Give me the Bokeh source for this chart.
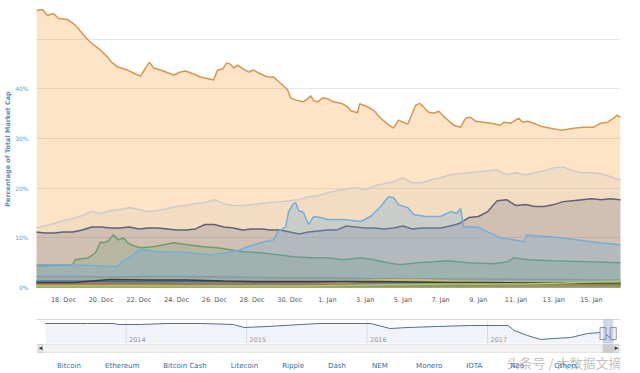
from bokeh.plotting import figure
from bokeh.models import Range1d, FixedTicker, Legend, LegendItem, BoxAnnotation, Label
from bokeh.layouts import column
from bokeh.embed import file_html
from bokeh.resources import INLINE
from bokeh.core.properties import value

FONT = "DejaVu Sans"

# ---------------- data (x = days since 16 Dec 2017 00:00, values in % of total market cap) ----
X_START, X_END = 0.57, 31.54
tick_days = [2, 4, 6, 8, 10, 12, 14, 16, 18, 20, 22, 24, 26, 28, 30]
tick_labels = ["18. Dec", "20. Dec", "22. Dec", "24. Dec", "26. Dec", "28. Dec", "30. Dec",
               "1. Jan", "3. Jan", "5. Jan", "7. Jan", "9. Jan", "11. Jan", "13. Jan", "15. Jan"]
y_ticks = [0, 10, 20, 30, 40, 50]
y_labels = ["0%", "10%", "20%", "30%", "40%", ""]

btc_d = [0.57, 0.89, 1.15, 1.47, 1.74, 2.21, 2.64, 3.17, 3.43, 3.97,
         4.34, 4.55, 4.87, 5.40, 5.82, 6.09, 6.35, 6.56, 6.78, 7.15,
         7.84, 8.21, 8.47, 8.90, 9.27, 9.96, 10.17, 10.44, 10.65, 10.86,
         11.02, 11.23, 11.55, 11.82, 12.08, 12.35, 12.82, 13.14, 13.62, 13.89,
         14.04, 14.31, 14.68, 14.95, 15.11, 15.27, 15.48, 15.74, 16.01, 16.33,
         16.80, 17.07, 17.23, 17.60, 17.70, 18.13, 18.45, 18.82, 19.19, 19.51,
         19.77, 19.88, 20.25, 20.52, 20.68, 20.89, 21.10, 21.37, 21.63, 21.90,
         22.27, 22.69, 23.06, 23.33, 23.59, 23.86, 24.28, 24.65, 25.19, 25.34,
         25.72, 26.14, 26.35, 26.62, 26.94, 27.31, 27.84, 28.37, 28.74, 29.06,
         29.54, 30.12, 30.49, 30.86, 31.18, 31.34, 31.54]
btc = [55.8, 56.0, 54.8, 55.2, 54.2, 54.0, 52.8, 50.4, 49.4, 47.8,
       46.4, 45.4, 44.4, 43.8, 43.0, 42.6, 44.2, 45.4, 44.2, 43.8,
       42.8, 43.4, 43.6, 43.0, 42.4, 41.8, 43.8, 44.0, 45.2, 45.0,
       44.2, 44.8, 44.0, 43.4, 43.8, 43.2, 42.4, 42.4, 40.8, 39.8,
       38.2, 37.8, 37.4, 38.0, 38.6, 37.6, 37.4, 38.2, 38.0, 37.4,
       37.0, 36.4, 35.6, 35.2, 37.0, 36.4, 35.7, 34.1, 32.9, 32.1,
       33.7, 33.5, 32.9, 35.3, 36.7, 37.1, 36.3, 35.3, 35.1, 35.5,
       34.1, 32.7, 32.3, 34.1, 34.3, 33.5, 33.3, 33.1, 32.7, 33.3,
       33.1, 34.1, 33.3, 33.5, 33.1, 32.5, 32.1, 31.7, 31.9, 32.1,
       32.3, 32.3, 33.1, 33.3, 34.1, 34.7, 34.3]

grid_d = [0.5, 1.0, 1.5, 2.0, 2.5, 3.0, 3.5, 4.0, 4.5, 5.0, 5.5, 6.0, 6.5, 7.0, 7.5, 8.0,
          8.5, 9.0, 9.5, 10.0, 10.5, 11.0, 11.5, 12.0, 12.5, 13.0, 13.5, 14.0, 14.5, 15.0, 15.5, 16.0,
          16.5, 17.0, 17.5, 18.0, 18.5, 19.0, 19.5, 20.0, 20.5, 21.0, 21.5, 22.0, 22.5, 23.0, 23.5, 24.0,
          24.5, 25.0, 25.5, 26.0, 26.5, 27.0, 27.5, 28.0, 28.5, 29.0, 29.5, 30.0, 30.5, 31.0, 31.5, 32.0]
others = [12.0, 12.4, 12.9, 13.5, 13.9, 14.5, 15.3, 14.9, 15.5, 15.7, 16.1, 15.7, 15.3, 15.5, 15.9, 16.3,
          16.5, 16.9, 17.1, 17.7, 16.9, 16.5, 16.5, 16.7, 16.9, 17.1, 17.3, 17.5, 17.7, 18.3, 18.5, 19.1,
          19.5, 19.9, 20.1, 19.7, 20.5, 20.9, 21.3, 22.1, 21.1, 21.1, 21.7, 22.1, 22.7, 22.9, 23.1, 23.3,
          23.5, 23.7, 22.7, 23.1, 22.7, 23.1, 23.5, 24.1, 24.3, 23.5, 23.1, 23.1, 22.9, 22.3, 21.7, 21.7]
eth = [11.2, 11.0, 11.0, 11.2, 11.2, 11.6, 12.2, 12.2, 12.0, 12.0, 12.2, 11.8, 12.0, 12.0, 11.8, 11.6,
       11.6, 11.8, 12.7, 12.7, 12.2, 12.0, 11.6, 11.8, 11.8, 11.6, 11.6, 11.2, 10.8, 11.2, 11.4, 11.6,
       11.6, 12.4, 12.2, 12.0, 12.0, 11.8, 12.0, 12.4, 11.8, 12.0, 12.0, 12.0, 12.4, 12.9, 14.1, 14.3,
       15.3, 17.5, 17.7, 16.5, 16.7, 16.3, 16.3, 16.7, 17.3, 17.5, 17.7, 17.9, 17.7, 17.9, 17.7, 17.7]

rip_d = [0.57, 2.37, 3.81, 4.87, 5.03, 5.56, 5.93, 6.25, 6.99, 7.84,
         8.74, 9.80, 10.70, 11.39, 11.76, 12.45, 13.14, 13.36, 13.51, 13.78,
         13.94, 14.15, 14.31, 14.47, 14.73, 15.00, 15.26, 15.64, 16.01, 16.86,
         17.76, 18.29, 18.82, 19.24, 19.51, 19.77, 20.25, 20.57, 21.21, 22.00,
         22.53, 22.85, 23.06, 23.22, 23.97, 24.50, 25.19, 25.88, 26.41, 26.56,
         27.31, 28.37, 29.59, 30.49, 31.55]
rip = [4.6, 4.6, 4.4, 4.2, 5.0, 6.2, 7.4, 7.6, 7.2, 7.2,
       7.0, 6.6, 7.0, 7.6, 8.2, 9.0, 9.6, 11.2, 11.6, 12.2,
       15.3, 16.7, 17.1, 15.5, 15.1, 12.7, 14.3, 14.1, 13.7, 13.7,
       13.3, 14.3, 16.3, 18.3, 18.1, 16.7, 16.1, 14.7, 14.3, 14.3,
       15.3, 14.9, 15.9, 12.2, 12.2, 11.2, 10.0, 9.6, 9.2, 10.6,
       10.4, 10.0, 9.4, 9.0, 8.6]

bch_d = [0.57, 2.48, 2.64, 3.33, 3.70, 3.97, 4.12, 4.39, 4.65, 4.92,
         5.19, 5.40, 5.72, 6.09, 6.78, 7.31, 7.84, 8.58, 9.43, 10.17,
         10.86, 11.55, 12.45, 13.36, 14.20, 15.11, 16.01, 16.86, 17.76, 18.45,
         19.19, 19.88, 20.78, 21.63, 22.37, 23.43, 24.81, 25.56, 25.88, 26.62,
         28.00, 29.80, 31.55]
bch = [4.4, 4.6, 5.6, 6.0, 7.0, 9.2, 9.0, 9.4, 10.6, 9.6,
       10.0, 9.0, 8.4, 8.0, 8.2, 8.6, 9.0, 8.6, 8.2, 8.0,
       7.6, 7.2, 7.0, 6.6, 6.2, 6.0, 6.0, 5.6, 6.0, 5.6,
       5.0, 4.6, 5.0, 5.2, 5.4, 5.0, 4.8, 5.2, 6.0, 5.6,
       5.4, 5.2, 5.0]

minor_d = [0.5, 2.5, 4.5, 6.5, 8.5, 10.5, 12.5, 14.5, 16.5, 18.5, 20.5, 22.5, 24.5, 26.5, 28.5, 30.5, 31.6]
ltc = [2.2, 2.2, 2.1, 2.2, 2.2, 2.1, 2.0, 1.9, 1.9, 1.8, 1.8, 1.7, 1.7, 1.6, 1.6, 1.5, 1.5]
dash = [1.3, 1.3, 1.2, 1.2, 1.2, 1.2, 1.1, 1.1, 1.0, 1.0, 1.0, 1.0, 0.9, 0.9, 0.9, 0.9, 0.9]
nem = [0.6, 0.6, 0.6, 0.6, 0.6, 0.6, 0.6, 0.7, 0.9, 1.5, 1.6, 1.3, 1.1, 1.0, 0.9, 0.9, 0.9]
xmr = [0.8, 0.8, 0.8, 0.8, 0.7, 0.7, 0.7, 0.7, 0.6, 0.6, 0.6, 0.6, 0.6, 0.6, 0.6, 0.5, 0.5]
iota = [1.0, 1.0, 1.6, 1.5, 1.5, 1.3, 1.2, 1.2, 1.2, 1.2, 1.1, 1.0, 1.0, 0.9, 0.9, 0.8, 0.8]
neo = [0.3, 0.3, 0.3, 0.3, 0.3, 0.3, 0.3, 0.3, 0.4, 0.5, 0.6, 0.7, 0.7, 0.7, 0.9, 1.2, 1.3]

# navigator: Bitcoin dominance history (x in years)
nav_x = [2013.33, 2013.51, 2013.68, 2013.90, 2013.93, 2014.12, 2014.34, 2014.62, 2014.89, 2014.98,
         2015.17, 2015.45, 2015.61, 2016.03, 2016.19, 2016.34, 2016.58, 2016.86, 2017.17, 2017.22,
         2017.33, 2017.44, 2017.55, 2017.69, 2017.83, 2017.94, 2017.98, 2018.02, 2018.05]
nav_btc = [94, 94, 94, 94, 90.4, 90.4, 94, 94, 90.4, 79.6,
           83.2, 90.4, 94, 94, 76, 79.6, 83.2, 86.8, 86.8, 68.9,
           50.9, 36.6, 40.2, 43.7, 58.1, 61.7, 54.5, 43.7, 33]
nav_years = [2014, 2015, 2016, 2017]
nav_year_labels = ["2014", "2015", "2016", "2017"]
SEL0, SEL1 = 2017.958, 2018.043

names = ["Bitcoin", "Ethereum", "Bitcoin Cash", "Litecoin", "Ripple", "Dash",
         "NEM", "Monero", "IOTA", "Neo", "Others"]
series_x = [btc_d, grid_d, bch_d, minor_d, rip_d, minor_d, minor_d, minor_d, minor_d, minor_d, grid_d]
series_y = [btc, eth, bch, ltc, rip, dash, nem, xmr, iota, neo, others]
fill_colors = ["#f7931a", "#3d3d66", "#3f8f45", "#838383", "#5aa7dd", "#2a6fb8",
               "#f2c12e", "#f26822", "#1a1a1a", "#8cc63f", "#b8b8b8"]
line_colors = ["#d6964d", "#55516c", "#5f9863", "#8a8f99", "#6aaee0", "#3a74b0",
               "#d8bf4a", "#c8743a", "#2a2a2a", "#a6cf5a", "#cfcaca"]
fill_alphas = [0.25, 0.2, 0.2, 0.15, 0.28, 0.15, 0.2, 0.2, 0.2, 0.25, 0.15]
legend_colors = ["#f0a046", "#2f2f4f", "#3d8a3d", "#888888", "#4a9ad8", "#2c6fb5",
                 "#f2c233", "#e8682a", "#111111", "#8fc942", "#a8a8a8"]

# ---------------- main chart ----------------
p = figure(width=640, height=306, x_range=Range1d(X_START, X_END), y_range=Range1d(-0.4, 56.2),
           output_backend="svg", toolbar_location=None,
           min_border_left=36, min_border_right=20, min_border_top=8, min_border_bottom=16)
p.outline_line_color = None
p.background_fill_color = "white"
p.xgrid.visible = False
p.ygrid.ticker = FixedTicker(ticks=y_ticks)
p.ygrid.grid_line_color = "#e6e6e6"

for xs, ys, fc, lc, fa in zip(series_x, series_y, fill_colors, line_colors, fill_alphas):
    p.varea(x=xs, y1=0, y2=ys, fill_color=fc, fill_alpha=fa)
    p.line(xs, ys, line_color=lc, line_width=1.5)

p.xaxis.ticker = FixedTicker(ticks=tick_days)
p.xaxis.major_label_overrides = {d: t for d, t in zip(tick_days, tick_labels)}
p.xaxis.axis_line_color = None
p.xaxis.major_tick_line_color = None
p.xaxis.minor_tick_line_color = None
p.xaxis.major_tick_out = 0
p.xaxis.minor_tick_out = 0
p.xaxis.axis_label_standoff = 0
p.xaxis.major_label_standoff = 6
p.xaxis.major_label_text_font = FONT
p.xaxis.major_label_text_font_size = "6.5px"
p.xaxis.major_label_text_color = "#555555"

p.yaxis.ticker = FixedTicker(ticks=y_ticks)
p.yaxis.major_label_overrides = {t: l for t, l in zip(y_ticks, y_labels)}
p.yaxis.axis_line_color = None
p.yaxis.major_tick_line_color = None
p.yaxis.minor_tick_line_color = None
p.yaxis.major_tick_out = 0
p.yaxis.minor_tick_out = 0
p.yaxis.major_label_standoff = 8
p.yaxis.major_label_text_font = FONT
p.yaxis.major_label_text_font_size = "6px"
p.yaxis.major_label_text_color = "#6f96c8"
p.yaxis.axis_label = "Percentage of Total Market Cap"
p.yaxis.axis_label_text_font = FONT
p.yaxis.axis_label_text_font_size = "6.5px"
p.yaxis.axis_label_text_font_style = "bold"
p.yaxis.axis_label_text_color = "#5b8cc4"
p.yaxis.axis_label_standoff = 0

# ---------------- navigator + scrollbar + legend ----------------
NAV_X0, NAV_X1 = 2013.257, 2018.103
NAV_TOP, NAV_BOTTOM = 108.4, 22.2
HANDLE_Y, SCROLL_Y, WATERMARK_Y = 58.1, 4.3, -46.0

nav = figure(width=640, height=67, x_range=Range1d(NAV_X0, NAV_X1), y_range=Range1d(-85.5, 155.0),
             output_backend="svg", toolbar_location=None,
             min_border_left=36, min_border_right=20, min_border_top=0, min_border_bottom=0)
nav.axis.visible = False
nav.grid.visible = False
nav.outline_line_color = None

nav.segment(x0=nav_years, y0=NAV_BOTTOM, x1=nav_years, y1=NAV_TOP, line_color="#e6e6e6", line_width=1)
nav.segment(x0=[NAV_X0], y0=NAV_TOP, x1=[NAV_X1], y1=NAV_TOP, line_color="#d6d6d6", line_width=1)
nav.varea(x=nav_x, y1=NAV_BOTTOM, y2=nav_btc, fill_color="#335cad", fill_alpha=0.07)
nav.line(nav_x, nav_btc, line_color="#4f6f92", line_width=1)
nav.text(x=nav_years, y=NAV_BOTTOM, text=nav_year_labels, x_offset=3, y_offset=-1,
         text_font=value(FONT), text_font_size="6.5px", text_color="#999999",
         text_baseline="bottom", text_align="left")
nav.add_layout(BoxAnnotation(left=SEL0, right=SEL1, bottom=NAV_BOTTOM, top=NAV_TOP,
                             fill_color="#6685c2", fill_alpha=0.3, line_color=None))
nav.rect(x=[SEL0, SEL1], y=HANDLE_Y, width=6, height=12, width_units="screen", height_units="screen",
         fill_color="#f2f2f2", line_color="#999999", line_width=1)
# scrollbar
nav.rect(x=[(NAV_X0 + NAV_X1) / 2], y=SCROLL_Y, width=NAV_X1 - NAV_X0, height=8, height_units="screen",
         fill_color="#f2f2f2", line_color="#e6e6e6")
nav.rect(x=[(SEL0 + SEL1) / 2], y=SCROLL_Y, width=SEL1 - SEL0, height=8, height_units="screen",
         fill_color="#cccccc", line_color="#cccccc")
nav.add_layout(Label(x=NAV_X0, y=SCROLL_Y, x_offset=4, text="◂", text_align="center", text_baseline="middle",
                     text_font=FONT, text_font_size="7px", text_color="#333333",
                     background_fill_color="#e6e6e6", border_line_color="#cccccc"))
nav.add_layout(Label(x=NAV_X1, y=SCROLL_Y, x_offset=-4, text="▸", text_align="center", text_baseline="middle",
                     text_font=FONT, text_font_size="7px", text_color="#333333",
                     background_fill_color="#e6e6e6", border_line_color="#cccccc"))

# legend
items = []
for name, c in zip(names, legend_colors):
    r = nav.scatter(x=[], y=[], marker="circle", size=7, fill_color=c, line_color=c)
    items.append(LegendItem(label=name, renderers=[r]))
legend = Legend(items=items, orientation="horizontal", location=(3, 0),
                glyph_width=16, glyph_height=14, label_standoff=2, spacing=6,
                padding=0, margin=0, label_height=14, border_line_color=None,
                background_fill_alpha=0, label_text_font=FONT, label_text_font_size="7px",
                label_text_color="#2f6aa3")
nav.add_layout(legend)

nav.add_layout(Label(x=NAV_X1, y=WATERMARK_Y, x_offset=-114, text="头条号 / 大数据文摘",
                     text_align="left", text_baseline="middle", text_font="Noto Sans CJK SC",
                     text_font_size="13px", text_color="#8a8a8a", text_alpha=0.55))

layout = column(p, nav, spacing=0)
open("out.html", "w").write(file_html(layout, INLINE))
